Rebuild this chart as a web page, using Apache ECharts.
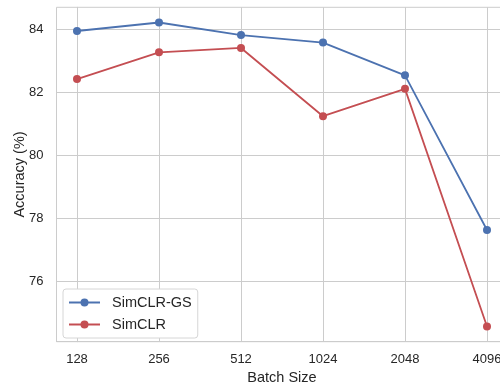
<!DOCTYPE html>
<html>
<head>
<meta charset="utf-8">
<script src="https://cdn.jsdelivr.net/npm/echarts@6/dist/echarts.min.js"></script>
<style>
  html, body { margin: 0; padding: 0; background: #fff; overflow: hidden; }
  /* the plot frame runs a little past the right edge of the window */
  #chart { width: 508px; height: 386px; }
</style>
</head>
<body>
<div id="chart"></div>
<script>
// Batch sizes on the x axis (evenly spaced categories)
const batchSizes = ['128', '256', '512', '1024', '2048', '4096'];

// Top-1 accuracy (%) for each batch size
const simclrGS = [83.96, 84.23, 83.83, 83.59, 82.55, 77.63];
const simclr   = [82.43, 83.28, 83.42, 81.25, 82.12, 74.56];

// Y tick labels
const yTicks = [76, 78, 80, 82, 84];

const FONT = '"Liberation Sans", Arial, sans-serif';
const TEXT = '#262626';
const GRID = '#cccccc';

const xIdx = batchSizes.map((_, i) => i);
const toPairs = vals => vals.map((v, i) => [i, v]);

// 5% padding around the data on both axes
const allVals = simclrGS.concat(simclr);
const yLo = Math.min(...allVals), yHi = Math.max(...allVals);
const yPad = (yHi - yLo) * 0.05;
const xPad = (xIdx.length - 1) * 0.05;

const chart = echarts.init(document.getElementById('chart'), null, { renderer: 'canvas' });

chart.setOption({
  animation: false,
  backgroundColor: '#ffffff',
  textStyle: { fontFamily: FONT },
  grid: { left: 56.5, top: 7.3, width: 451, height: 334.4, containLabel: false,
          outerBoundsMode: 'none',
          show: true, borderColor: GRID, borderWidth: 1 },
  xAxis: {
    type: 'value',
    min: -xPad, max: xIdx.length - 1 + xPad,
    name: 'Batch Size', nameLocation: 'middle', nameGap: 29, nameMoveOverlap: false,
    nameTextStyle: { color: TEXT, fontSize: 14.5, fontFamily: FONT },
    axisLine: { show: true, lineStyle: { color: GRID, width: 1 } },
    axisTick: { show: false, customValues: xIdx },
    axisLabel: { customValues: xIdx, color: TEXT, fontSize: 13, fontFamily: FONT, margin: 11,
                 formatter: v => batchSizes[Math.round(v)] },
    splitLine: { show: true, lineStyle: { color: GRID, width: 1 } }
  },
  yAxis: {
    type: 'value',
    min: yLo - yPad, max: yHi + yPad,
    name: 'Accuracy (%)', nameLocation: 'middle', nameGap: 29, nameRotate: 90, nameMoveOverlap: false,
    nameTextStyle: { color: TEXT, fontSize: 14.5, fontFamily: FONT },
    axisLine: { show: true, lineStyle: { color: GRID, width: 1 } },
    axisTick: { show: false, customValues: yTicks },
    axisLabel: { customValues: yTicks, color: TEXT, fontSize: 13, fontFamily: FONT, margin: 13 },
    splitLine: { show: true, lineStyle: { color: GRID, width: 1 } }
  },
  legend: {
    orient: 'vertical',
    left: 63, top: 289,
    padding: [6, 6, 6, 5],
    itemGap: 7,
    itemWidth: 31, itemHeight: 10,
    backgroundColor: '#ffffff',
    borderColor: '#d6d6d6', borderWidth: 1, borderRadius: 3,
    textStyle: { color: TEXT, fontSize: 14.5, fontFamily: FONT, lineHeight: 14, padding: [0, 0, 0, 7] },
    data: ['SimCLR-GS', 'SimCLR']
  },
  series: [
    {
      name: 'SimCLR-GS', type: 'line', data: toPairs(simclrGS),
      symbol: 'circle', symbolSize: 8, showSymbol: true,
      itemStyle: { color: '#4c72b0' },
      lineStyle: { color: '#4c72b0', width: 1.8 },
      z: 3
    },
    {
      name: 'SimCLR', type: 'line', data: toPairs(simclr),
      symbol: 'circle', symbolSize: 8, showSymbol: true,
      itemStyle: { color: '#c44e52' },
      lineStyle: { color: '#c44e52', width: 1.8 },
      z: 4
    }
  ]
});
</script>
</body>
</html>
